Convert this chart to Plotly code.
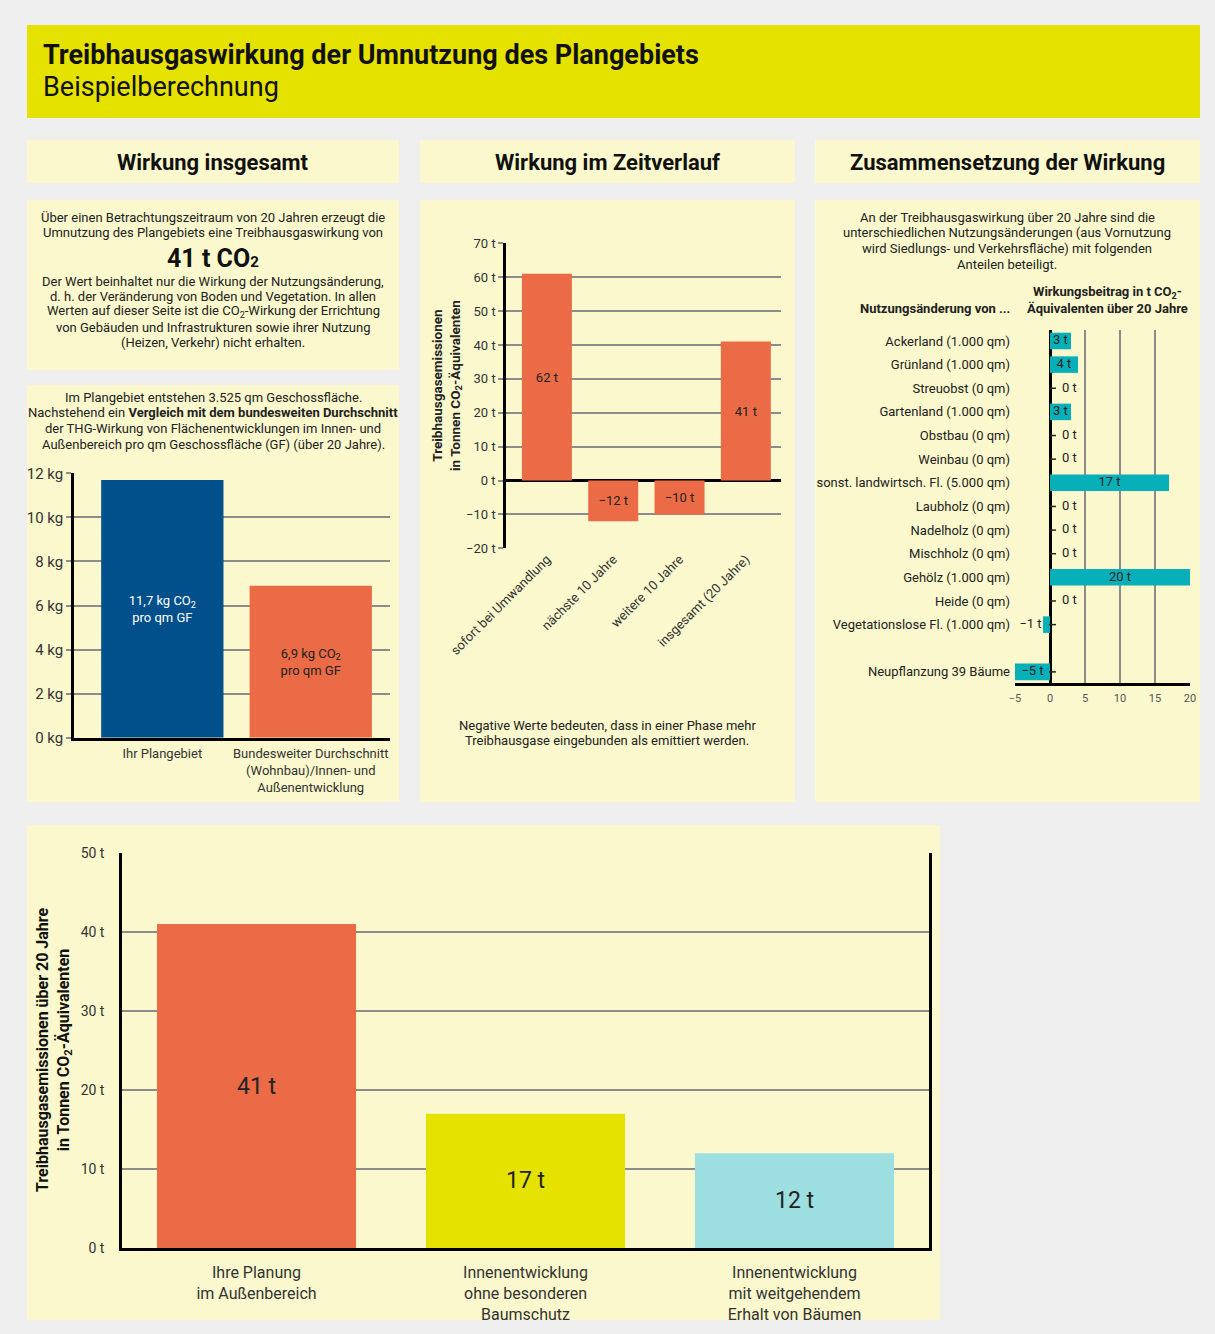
import plotly.graph_objects as go

W, H = 1215, 1334
FONT = "Roboto"
ORANGE = "#ea6b45"
BLUE = "#01508b"
YELLOW = "#e5e200"
LIGHTBLUE = "#9ddfe0"
TEAL = "#07b0b8"
PANEL = "#faf8cc"
GRID = "#8c8c8c"
TXT = "#222222"

# ---------------- data ----------------
kg_categories = ["Ihr Plangebiet",
                 "Bundesweiter Durchschnitt<br>(Wohnbau)/Innen- und<br>Außenentwicklung"]
kg_values = [11.7, 6.9]
kg_labels = ["11,7 kg CO<sub>2</sub><br>pro qm GF", "6,9 kg CO<sub>2</sub><br>pro qm GF"]
kg_ticks = [0, 2, 4, 6, 8, 10, 12]

phase_categories = ["sofort bei Umwandlung", "nächste 10 Jahre",
                    "weitere 10 Jahre", "insgesamt (20 Jahre)"]
phase_values = [61, -12, -10, 41]
phase_labels = ["62 t", "−12 t", "−10 t", "41 t"]
phase_ticks = [-20, -10, 0, 10, 20, 30, 40, 50, 60, 70]

use_categories = ["Ackerland (1.000 qm)", "Grünland (1.000 qm)", "Streuobst (0 qm)",
                  "Gartenland (1.000 qm)", "Obstbau (0 qm)", "Weinbau (0 qm)",
                  "sonst. landwirtsch. Fl. (5.000 qm)", "Laubholz (0 qm)",
                  "Nadelholz (0 qm)", "Mischholz (0 qm)", "Gehölz (1.000 qm)",
                  "Heide (0 qm)", "Vegetationslose Fl. (1.000 qm)", "Neupflanzung 39 Bäume"]
use_values = [3, 4, 0, 3, 0, 0, 17, 0, 0, 0, 20, 0, -1, -5]
use_ticks = [-5, 0, 5, 10, 15, 20]

compare_categories = ["Ihre Planung<br>im Außenbereich",
                      "Innenentwicklung<br>ohne besonderen<br>Baumschutz",
                      "Innenentwicklung<br>mit weitgehendem<br>Erhalt von Bäumen"]
compare_values = [41, 17, 12]
compare_ticks = [0, 10, 20, 30, 40, 50]


def fx(x):
    return x / W


def fy(y):
    return 1 - y / H


def fmt(v):
    return f"{v}".replace("-", "−")


fig = go.Figure()

# ---------------- chart A2: kg per qm ----------------
fig.add_trace(go.Bar(
    x=kg_categories, y=kg_values, text=kg_labels, width=0.824,
    marker=dict(color=[BLUE, ORANGE], line=dict(width=0)),
    textposition="inside", insidetextanchor="middle",
    textfont=dict(family=FONT, size=13, color=["white", TXT]),
    xaxis="x", yaxis="y", showlegend=False, hoverinfo="skip"))

# ---------------- chart B: phases ----------------
fig.add_trace(go.Bar(
    x=phase_categories, y=phase_values, text=phase_labels, width=0.754,
    marker=dict(color=ORANGE, line=dict(width=0)),
    textposition="inside", insidetextanchor="middle",
    textfont=dict(family=FONT, size=13, color=TXT),
    xaxis="x2", yaxis="y2", showlegend=False, hoverinfo="skip"))

# ---------------- chart C: composition ----------------
n = len(use_categories)
row_pos = [i if i < n - 1 else i + 1 for i in range(n)]
fig.add_trace(go.Bar(
    x=use_values, y=row_pos, orientation="h", width=0.7,
    marker=dict(color=TEAL, line=dict(width=0)),
    xaxis="x3", yaxis="y3", showlegend=False, hoverinfo="skip"))

# small ticks at the zero line where no bar covers it
tick_rows = [p for p, v in zip(row_pos, use_values) if v <= 0]
fig.add_trace(go.Scatter(
    x=[0.35] * len(tick_rows), y=tick_rows, mode="markers",
    marker=dict(symbol="line-ew", size=5, line=dict(width=1.5, color=TXT)),
    xaxis="x3", yaxis="y3", showlegend=False, hoverinfo="skip"))

in_x, in_y, in_t = [], [], []
out_r_x, out_r_y, out_r_t = [], [], []
out_l_x, out_l_y, out_l_t = [], [], []
for p, v in zip(row_pos, use_values):
    label = fmt(v) + " t"
    if abs(v) >= 3:
        in_x.append(v / 2); in_y.append(p); in_t.append(label)
    elif v >= 0:
        out_r_x.append(v + 1.7); out_r_y.append(p); out_r_t.append(label)
    else:
        out_l_x.append(v - 0.2); out_l_y.append(p); out_l_t.append(label)

for xs, ys, ts, pos in [(in_x, in_y, in_t, "middle center"),
                        (out_r_x, out_r_y, out_r_t, "middle right"),
                        (out_l_x, out_l_y, out_l_t, "middle left")]:
    fig.add_trace(go.Scatter(
        x=xs, y=ys, text=ts, mode="text", textposition=pos,
        textfont=dict(family=FONT, size=13, color=TXT),
        xaxis="x3", yaxis="y3", showlegend=False, hoverinfo="skip"))

# ---------------- bottom chart ----------------
fig.add_trace(go.Bar(
    x=compare_categories, y=compare_values,
    text=[f"{v} t" for v in compare_values], width=0.74,
    marker=dict(color=[ORANGE, YELLOW, LIGHTBLUE], line=dict(width=0)),
    textposition="inside", insidetextanchor="middle",
    textfont=dict(family=FONT, size=23, color=TXT),
    xaxis="x4", yaxis="y4", showlegend=False, hoverinfo="skip"))

# ---------------- axes ----------------
common_tick = dict(family=FONT, color="#333333")

fig.update_layout(
    xaxis=dict(domain=[fx(74), fx(390)], type="category", range=[-0.595, 1.534],
               showline=True, linecolor="black", linewidth=2.5, ticks="",
               tickfont=dict(size=13, **common_tick), ticklabelstandoff=2,
               showgrid=False, zeroline=False, automargin=False),
    yaxis=dict(domain=[fy(737.7), fy(473.3)], range=[0, 12],
               tickvals=kg_ticks, ticktext=[f"{t} kg" for t in kg_ticks],
               showgrid=True, gridcolor=GRID, gridwidth=1.5,
               showline=True, linecolor="black", linewidth=2.5,
               ticks="outside", ticklen=5, tickcolor=GRID, tickwidth=1.5,
               tickfont=dict(size=15, **common_tick), zeroline=False,
               automargin=False),
    xaxis2=dict(domain=[fx(506), fx(781)], type="category", range=[-0.617, 3.53],
                anchor="y2", tickangle=-45, ticks="", showline=False, showgrid=False,
                zeroline=False, tickfont=dict(size=13, **common_tick),
                automargin=False),
    yaxis2=dict(domain=[fy(548.3), fy(243.3)], range=[-20, 70], anchor="x2",
                tickvals=phase_ticks, ticktext=[fmt(t) + " t" for t in phase_ticks],
                showgrid=True, gridcolor=GRID, gridwidth=1.5,
                showline=True, linecolor="black", linewidth=2.5,
                zeroline=True, zerolinecolor="black", zerolinewidth=2.5,
                ticks="outside", ticklen=5, tickcolor=GRID, tickwidth=1.5,
                tickfont=dict(size=13, **common_tick), automargin=False),
    xaxis3=dict(domain=[fx(1015), fx(1190)], range=[-5, 20], anchor="y3",
                tickvals=use_ticks, ticktext=[fmt(t) for t in use_ticks],
                showgrid=True, gridcolor=GRID, gridwidth=1.5,
                zeroline=True, zerolinecolor="black", zerolinewidth=2.5,
                showline=True, linecolor="black", linewidth=2.5, ticks="",
                ticklabelstandoff=3, automargin=False,
                tickfont=dict(family=FONT, size=11, color="#555555")),
    yaxis3=dict(domain=[fy(683), fy(330)], range=[14.47, -0.465], anchor="x3",
                tickvals=row_pos, ticktext=use_categories, showgrid=False,
                showline=False, zeroline=False, ticks="", ticklabelstandoff=4,
                automargin=False,
                tickfont=dict(size=13, family=FONT, color=TXT)),
    xaxis4=dict(domain=[fx(122), fx(929)], type="category", range=[-0.5, 2.5],
                anchor="y4", showline=True, linecolor="black", linewidth=2.5,
                ticks="", showgrid=False, zeroline=False, ticklabelstandoff=8,
                automargin=False,
                tickfont=dict(size=16, **common_tick)),
    yaxis4=dict(domain=[fy(1248), fy(853)], range=[0, 50], anchor="x4",
                tickvals=compare_ticks, ticktext=[f"{t} t" for t in compare_ticks],
                showgrid=True, gridcolor=GRID, gridwidth=1.5,
                showline=True, linecolor="black", linewidth=2.5, mirror=True,
                zeroline=False, ticks="", ticklabelstandoff=12, automargin=False,
                tickfont=dict(size=14, **common_tick)),
)

# ---------------- panels ----------------
def rect(x0, y0, x1, y1, color):
    fig.add_shape(type="rect", xref="paper", yref="paper", layer="below",
                  x0=fx(x0), x1=fx(x1), y0=fy(y1), y1=fy(y0),
                  fillcolor=color, line=dict(width=0))


rect(27, 25, 1200, 118, YELLOW)
rect(27, 140, 399, 183, PANEL)
rect(420, 140, 795, 183, PANEL)
rect(815, 140, 1200, 183, PANEL)
rect(27, 200, 399, 370, PANEL)
rect(27, 385, 399, 802, PANEL)
rect(420, 200, 795, 802, PANEL)
rect(815, 200, 1200, 802, PANEL)
rect(27, 825, 940, 1320, PANEL)


def note(x, y, text, size=13, bold=False, xanchor="center", color=TXT, angle=0,
         yanchor="middle", align="center"):
    if bold:
        text = f"<b>{text}</b>"
    fig.add_annotation(x=fx(x), y=fy(y), xref="paper", yref="paper", text=text,
                       showarrow=False, xanchor=xanchor, yanchor=yanchor,
                       textangle=angle, align=align,
                       font=dict(family=FONT, size=size, color=color))


def block(x, y0, dy, lines, **kw):
    for i, line in enumerate(lines):
        note(x, y0 + i * dy, line, **kw)


note(41, 55, "Treibhausgaswirkung der Umnutzung des Plangebiets", size=27,
     bold=True, xanchor="left", color="#111111")
note(41, 87, "Beispielberechnung", size=27, xanchor="left", color="#111111")

note(213, 162, "Wirkung insgesamt", size=22, bold=True, color="#111111")
note(607, 162, "Wirkung im Zeitverlauf", size=22, bold=True, color="#111111")
note(1007, 162, "Zusammensetzung der Wirkung", size=22, bold=True, color="#111111")

block(213, 217, 15.8, ["Über einen Betrachtungszeitraum von 20 Jahren erzeugt die",
                       "Umnutzung des Plangebiets eine Treibhausgaswirkung von"])
note(213, 258, "41 t CO<span style='font-size:15px'>2</span>", size=25, bold=True,
     color="#111111")
block(213, 281, 15.4, ["Der Wert beinhaltet nur die Wirkung der Nutzungsänderung,",
                       "d. h. der Veränderung von Boden und Vegetation. In allen",
                       "Werten auf dieser Seite ist die CO<sub>2</sub>-Wirkung der Errichtung",
                       "von Gebäuden und Infrastrukturen sowie ihrer Nutzung",
                       "(Heizen, Verkehr) nicht erhalten."])

block(213, 397, 15.7, ["Im Plangebiet entstehen 3.525 qm Geschossfläche.",
                       "Nachstehend ein <b>Vergleich mit dem bundesweiten Durchschnitt</b>",
                       "der THG-Wirkung von Flächenentwicklungen im Innen- und",
                       "Außenbereich pro qm Geschossfläche (GF) (über 20 Jahre)."])

note(447, 386, "Treibhausgasemissionen<br>in Tonnen CO<sub>2</sub>-Äquivalenten", size=13.5,
     bold=True, angle=-90)
block(607, 725, 16, ["Negative Werte bedeuten, dass in einer Phase mehr",
                     "Treibhausgase eingebunden als emittiert werden."])

block(1007, 217, 15.7, ["An der Treibhausgaswirkung über 20 Jahre sind die",
                        "unterschiedlichen Nutzungsänderungen (aus Vornutzung",
                        "wird Siedlungs- und Verkehrsfläche) mit folgenden",
                        "Anteilen beteiligt."])
note(1012, 308, "Nutzungsänderung von ...", bold=True, xanchor="right")
block(1107, 293, 15.5, ["Wirkungsbeitrag in t CO<sub>2</sub>-",
                        "Äquivalenten über 20 Jahre"], bold=True)

note(54, 1050, "Treibhausgasemissionen über 20 Jahre<br>in Tonnen CO<sub>2</sub>-Äquivalenten",
     size=16, bold=True, angle=-90, color="#111111")

fig.update_layout(
    width=W, height=H,
    margin=dict(l=0, r=0, t=0, b=0, pad=0, autoexpand=False),
    paper_bgcolor="#efefef", plot_bgcolor="rgba(0,0,0,0)",
    font=dict(family=FONT, color=TXT), bargap=0.2,
)

fig.write_html("out.html")
